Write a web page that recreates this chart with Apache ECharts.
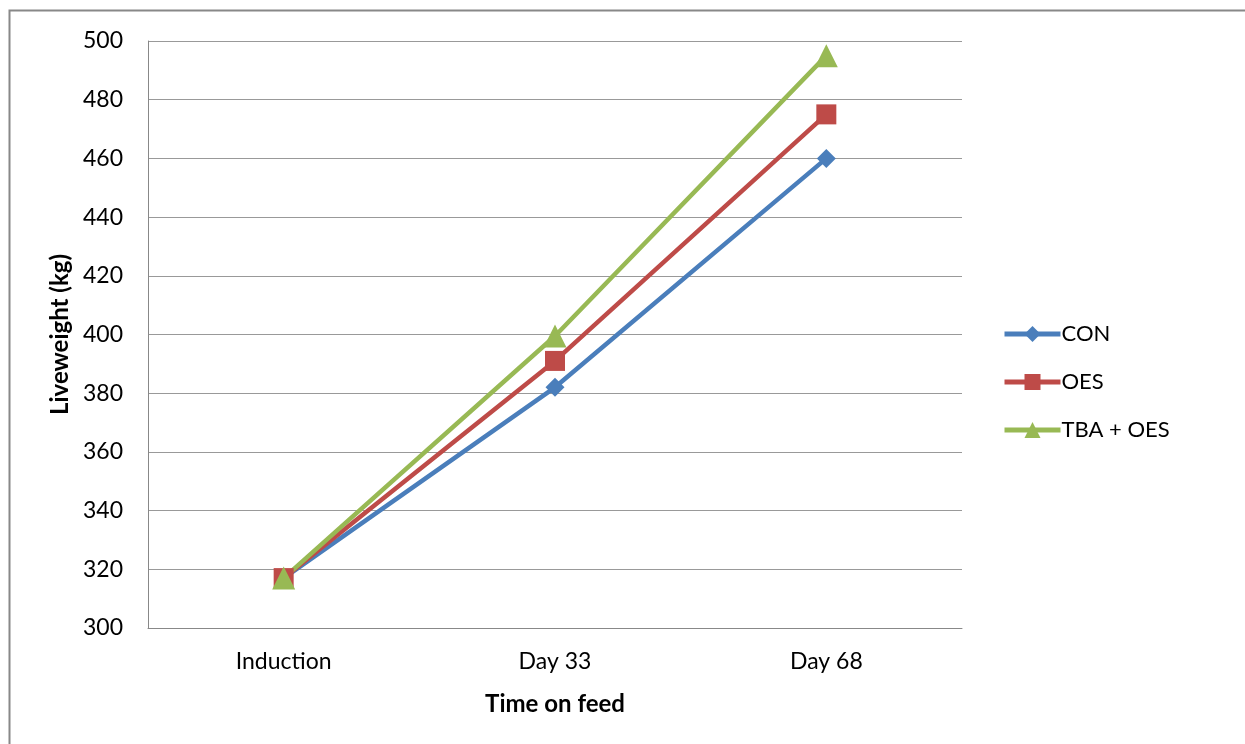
<!DOCTYPE html>
<html><head><meta charset="utf-8">
<script src="https://cdn.jsdelivr.net/npm/echarts@6/dist/echarts.min.js"></script>
<style>html,body{margin:0;padding:0;background:#fff}#c{width:1245px;height:744px}</style>
</head><body><div id="c"></div>
<script>
const categories = ['Induction', 'Day 33', 'Day 68'];
const conValues = [317, 382, 460];
const oesValues = [317, 391, 475];
const tbaValues = [317, 399.5, 495];
const seriesNames = ['CON', 'OES', 'TBA + OES'];

const chart = echarts.init(document.getElementById('c'));
const font = 'Lato, "Open Sans", sans-serif';
function mk(name, data, color, symbol, size) {
  return {
    name, type: 'line', data, symbol, symbolSize: size,
    lineStyle: { color, width: 4.5 },
    itemStyle: { color },
    z: 3
  };
}
chart.setOption({
  animation: false,
  textStyle: { fontFamily: font },
  graphic: [{
    type: 'rect', shape: { x: 9.5, y: 10.5, width: 1250, height: 760 },
    style: { fill: 'none', stroke: '#888', lineWidth: 2 }, silent: true
  }],
  grid: { left: 148, right: 283, top: 41, bottom: 116 },
  legend: {
    orient: 'vertical', left: 1002, top: 323, padding: 0, itemGap: 26, itemWidth: 56, itemHeight: 20,
    lineStyle: { width: 5 },
    textStyle: { fontSize: 22, color: '#000', fontFamily: font, padding: [0, 0, 0, -4] },
    data: seriesNames
  },
  xAxis: {
    type: 'category', data: categories, boundaryGap: true,
    axisLine: { lineStyle: { color: '#888', width: 1 } },
    axisTick: { show: false },
    axisLabel: { fontSize: 23, color: '#000', margin: 22 },
    name: 'Time on feed', nameLocation: 'middle', nameGap: 64,
    nameTextStyle: { fontSize: 24, fontWeight: 'bold', color: '#000' }
  },
  yAxis: {
    type: 'value', min: 300, max: 500, interval: 20,
    axisLine: { show: true, lineStyle: { color: '#888', width: 1 } },
    axisTick: { show: false },
    splitLine: { lineStyle: { color: '#999', width: 1 } },
    axisLabel: { fontSize: 23, color: '#000', margin: 25 },
    name: 'Liveweight (kg)', nameLocation: 'middle', nameGap: 76,
    nameTextStyle: { fontSize: 24, fontWeight: 'bold', color: '#000' }
  },
  series: [
    mk(seriesNames[0], conValues, '#4a7ebb', 'diamond', 19),
    mk(seriesNames[1], oesValues, '#be4b48', 'rect', 20),
    mk(seriesNames[2], tbaValues, '#98b954', 'triangle', 23)
  ]
});
</script></body></html>
